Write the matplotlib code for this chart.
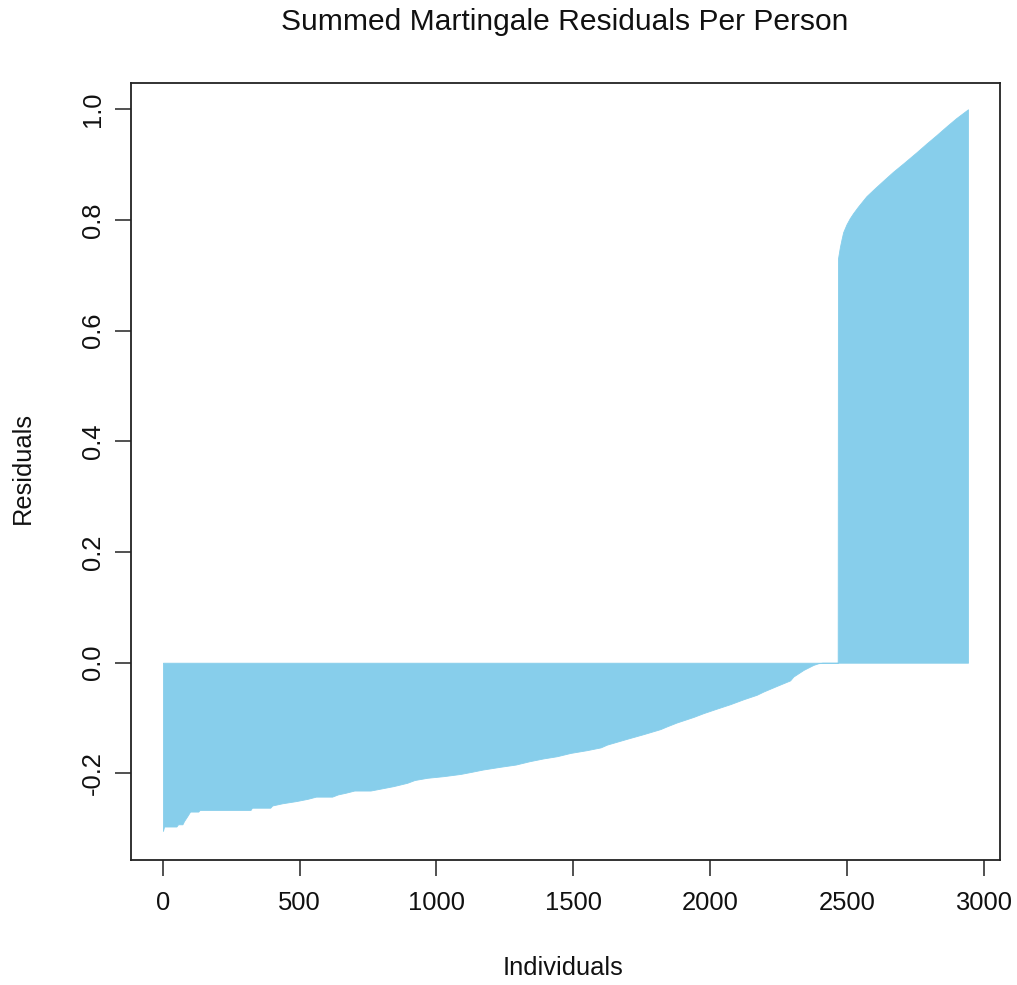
import matplotlib
matplotlib.use("Agg")
import matplotlib.pyplot as plt
from matplotlib.ticker import FixedLocator, FuncFormatter

# Sorted summed martingale residuals (knots)
rank = [1, 5, 50, 56, 72, 78, 90, 100, 130, 135, 321, 326, 393, 400, 437,
        488, 529, 560, 619, 640, 668, 700, 759, 796, 843, 893, 920, 966,
        1026, 1088, 1130, 1170, 1234, 1290, 1340, 1390, 1440, 1490, 1550,
        1600, 1623, 1696, 1757, 1818, 1842, 1878, 1939, 1976, 2024, 2073,
        2122, 2170, 2195, 2243, 2292, 2304, 2341, 2377, 2395, 2410, 2466,
        2467, 2474, 2480, 2486, 2498, 2510, 2522, 2540, 2553, 2571, 2601,
        2632, 2668, 2705, 2753, 2790, 2826, 2863, 2899, 2942]
resid = [-0.304, -0.296, -0.296, -0.292, -0.292, -0.286, -0.277, -0.269,
         -0.269, -0.266, -0.266, -0.262, -0.262, -0.258, -0.254, -0.250,
         -0.246, -0.242, -0.242, -0.238, -0.235, -0.231, -0.231, -0.2275,
         -0.223, -0.217, -0.212, -0.208, -0.205, -0.201, -0.197, -0.193,
         -0.188, -0.184, -0.178, -0.173, -0.169, -0.163, -0.158, -0.153,
         -0.148, -0.1375, -0.129, -0.120, -0.115, -0.108, -0.098, -0.091,
         -0.083, -0.075, -0.066, -0.058, -0.052, -0.042, -0.032, -0.025,
         -0.013, -0.004, -0.001, 0.0, 0.0,
         0.730, 0.751, 0.765, 0.778, 0.792, 0.803, 0.812, 0.824, 0.832,
         0.843, 0.857, 0.871, 0.887, 0.902, 0.922, 0.938, 0.953, 0.969,
         0.984, 1.000]

xticks = [0, 500, 1000, 1500, 2000, 2500, 3000]
yticks = [-0.2, 0.0, 0.2, 0.4, 0.6, 0.8, 1.0]

title = "Summed Martingale Residuals Per Person"
xlabel = "Individuals"
ylabel = "Residuals"

plt.rcParams['font.family'] = ['Liberation Sans', 'DejaVu Sans']

W, H = 1017, 985
fig = plt.figure(figsize=(W / 100, H / 100), dpi=100)
L, R, T, B = 131, 1000, 83, 860
ax = fig.add_axes([L / W, 1 - B / H, (R - L) / W, (B - T) / H])

ax.fill_between(rank, resid, 0, color='#87CEEB', linewidth=0.6,
                edgecolor='#87CEEB')

ax.set_xlim(-115.8, 3059)
ax.set_ylim(-0.3565, 1.0475)

ax.xaxis.set_major_locator(FixedLocator(xticks))
ax.yaxis.set_major_locator(FixedLocator(yticks))
ax.xaxis.set_major_formatter(FuncFormatter(lambda v, p: f"{int(round(v))}"))
ax.yaxis.set_major_formatter(FuncFormatter(lambda v, p: f"{v:.1f}"))

for s in ax.spines.values():
    s.set_linewidth(1.3)
    s.set_color('#222222')

ax.tick_params(axis='both', length=11.5, width=1.1, color='#222222',
               labelsize=18.4, labelcolor='#111111')
ax.tick_params(axis='x', pad=11)
ax.tick_params(axis='y', pad=7)
for lab in ax.get_yticklabels():
    lab.set_rotation(90)
    lab.set_va('center')

fig.text(565 / W, 1 - 22.5 / H, title, ha='center', va='center',
         fontsize=21.6, color='#111111')
fig.text(563 / W, 1 - 968 / H, xlabel, ha='center', va='center',
         fontsize=18.4, color='#111111')
fig.text(23 / W, 1 - 468 / H, ylabel, ha='center', va='center',
         rotation=90, fontsize=18.4, color='#111111')

fig.savefig("out.png", dpi=100, facecolor='white')
